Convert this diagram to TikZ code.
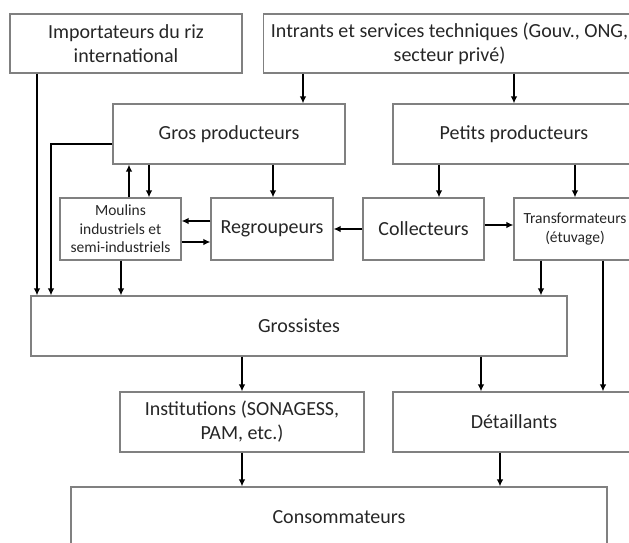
\documentclass[tikz,border=0pt]{standalone}
\usepackage{fontspec}
\setmainfont{Carlito}
\usetikzlibrary{arrows.meta}
\begin{document}
\begin{tikzpicture}[x=1pt,y=-1pt,>={Latex[length=7pt,width=6.5pt]},
  box/.style={draw=black!50,line width=1.1pt,inner sep=0pt,align=center,
    text=black!85,font=\fontsize{20}{24}\selectfont},
  smallbox/.style={box,font=\fontsize{15.5}{18.5}\selectfont},
  flow/.style={->,line width=1.4pt}]
\useasboundingbox (0,0) rectangle (629,542);
\clip (0,0) rectangle (629,542);

\node [box,minimum width=232pt,minimum height=59pt] (imp) at (126,43.5) {Importateurs du riz\\international};
\node [box,minimum width=372pt,minimum height=59pt] (intr) at (449.5,43.5) {Intrants et services techniques (Gouv., ONG,\\secteur privé)};
\node [box,minimum width=232pt,minimum height=60pt] (gros) at (229,134) {Gros producteurs};
\node [box,minimum width=242pt,minimum height=60pt] (petits) at (514,134) {Petits producteurs};
\node [smallbox,minimum width=121pt,minimum height=62pt] (moul) at (120.5,229) {Moulins\\industriels et\\semi-industriels};
\node [box,minimum width=122pt,minimum height=62pt] (regr) at (272,229) {Regroupeurs};
\node [box,minimum width=121pt,minimum height=62pt] (coll) at (423.5,229) {Collecteurs};
\node [smallbox,minimum width=122pt,minimum height=62pt] (transf) at (575,229) {Transformateurs\\(étuvage)};
\node [box,minimum width=536pt,minimum height=60pt] (gross) at (299,326) {Grossistes};
\node [box,minimum width=244pt,minimum height=60pt] (inst) at (242,422) {Institutions (SONAGESS,\\PAM, etc.)};
\node [box,minimum width=242pt,minimum height=60pt] (det) at (514,422) {Détaillants};
\node [box,minimum width=536pt,minimum height=60pt] (cons) at (339,517) {Consommateurs};

% vers les producteurs
\draw [flow] (303,0 |- intr.south) -- (303,0 |- gros.north);
\draw [flow] (514,0 |- intr.south) -- (514,0 |- petits.north);
\draw [flow] (273,0 |- gros.south) -- (273,0 |- regr.north);
\draw [flow] (149,0 |- gros.south) -- (149,0 |- moul.north);
\draw [flow] (129,0 |- moul.north) -- (129,0 |- gros.south);
\draw [flow] (439,0 |- petits.south) -- (439,0 |- coll.north);
\draw [flow] (575,0 |- petits.south) -- (575,0 |- transf.north);

% entre les intermediaires
\draw [flow] (regr.west |- 0,221) -- (moul.east |- 0,221);
\draw [flow] (moul.east |- 0,242) -- (regr.west |- 0,242);
\draw [flow] (coll.west) -- (regr.east);
\draw [flow] (coll.east |- 0,225) -- (transf.west |- 0,225);

% vers les grossistes
\draw [flow] (37,0 |- imp.south) -- (37,0 |- gross.north);
\draw [flow] ([yshift=-10pt]gros.west) -| (51,0 |- gross.north);
\draw [flow] (121,0 |- moul.south) -- (121,0 |- gross.north);
\draw [flow] (541,0 |- transf.south) -- (541,0 |- gross.north);

% vers les consommateurs
\draw [flow] (603,0 |- transf.south) -- (603,0 |- det.north);
\draw [flow] (gross.south -| inst.north) -- (inst.north);
\draw [flow] (481,0 |- gross.south) -- (481,0 |- det.north);
\draw [flow] (inst.south) -- (inst.south |- cons.north);
\draw [flow] (500,0 |- det.south) -- (500,0 |- cons.north);

\end{tikzpicture}
\end{document}
